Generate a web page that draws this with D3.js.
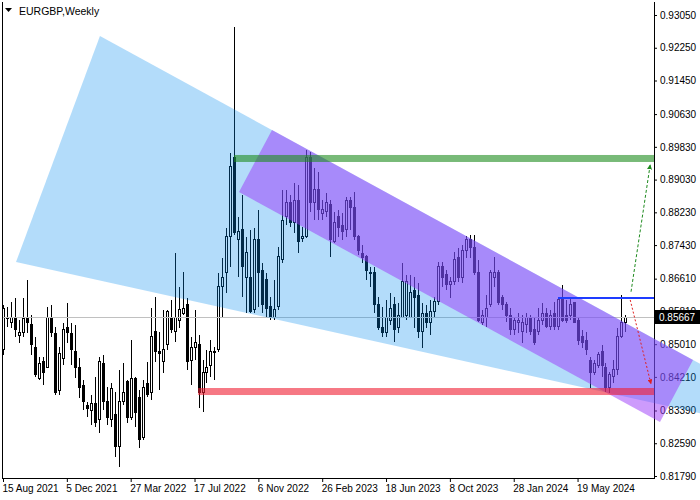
<!DOCTYPE html>
<html><head><meta charset="utf-8">
<script src="https://cdn.jsdelivr.net/npm/d3@7/dist/d3.min.js"></script>
<style>
html,body{margin:0;padding:0;background:#fff;}
svg{display:block;}
text{font-family:"Liberation Sans",Arial,sans-serif;}
</style></head>
<body>
<svg id="c" width="700" height="500"></svg>
<script>
// ---- data (EURGBP weekly, 15 Aug 2021 .. Aug 2024) ----
const dateLabels = ["15 Aug 2021","5 Dec 2021","27 Mar 2022","17 Jul 2022","6 Nov 2022","26 Feb 2023","18 Jun 2023","8 Oct 2023","28 Jan 2024","19 May 2024"];
const dateLabelIdx = [0,16,32,48,64,80,96,112,128,144];
const priceTicks = [0.93050,0.92250,0.91450,0.90630,0.89830,0.89030,0.88230,0.87430,0.86610,0.85810,0.85010,0.84210,0.83390,0.82590,0.81790];
const open = [0.8487,0.8567,0.8553,0.8565,0.8521,0.8529,0.8567,0.8548,0.8492,0.8418,0.8458,0.8445,0.8567,0.8526,0.8389,0.8465,0.8541,0.8526,0.8484,0.8443,0.8401,0.8352,0.8338,0.8357,0.8316,0.8455,0.8360,0.8318,0.8328,0.8250,0.8362,0.8409,0.8321,0.8418,0.8370,0.8272,0.8406,0.8382,0.8531,0.8484,0.8458,0.8499,0.8567,0.8531,0.8560,0.8577,0.8597,0.8462,0.8492,0.8499,0.8384,0.8431,0.8450,0.8482,0.8487,0.8641,0.8675,0.8763,0.8956,0.8756,0.8780,0.8663,0.8663,0.8585,0.8756,0.8682,0.8658,0.8592,0.8567,0.8592,0.8707,0.8812,0.8846,0.8797,0.8853,0.8758,0.8763,0.8958,0.8846,0.8878,0.8821,0.8824,0.8841,0.8751,0.8812,0.8792,0.8780,0.8853,0.8834,0.8763,0.8722,0.8714,0.8677,0.8675,0.8597,0.8541,0.8529,0.8560,0.8597,0.8541,0.8567,0.8572,0.8567,0.8633,0.8621,0.8531,0.8577,0.8553,0.8580,0.8604,0.8690,0.8670,0.8646,0.8653,0.8712,0.8663,0.8731,0.8756,0.8736,0.8675,0.8555,0.8567,0.8597,0.8663,0.8675,0.8614,0.8597,0.8572,0.8536,0.8555,0.8531,0.8548,0.8565,0.8536,0.8531,0.8560,0.8577,0.8543,0.8577,0.8543,0.8614,0.8572,0.8572,0.8602,0.8560,0.8519,0.8511,0.8462,0.8433,0.8450,0.8482,0.8443,0.8394,0.8421,0.8438,0.8519,0.8553];
const high = [0.8597,0.8592,0.8604,0.8614,0.8560,0.8614,0.8658,0.8572,0.8519,0.8470,0.8470,0.8592,0.8597,0.8543,0.8494,0.8553,0.8602,0.8553,0.8548,0.8467,0.8414,0.8360,0.8377,0.8421,0.8470,0.8475,0.8396,0.8406,0.8384,0.8438,0.8455,0.8414,0.8511,0.8421,0.8389,0.8414,0.8458,0.8589,0.8616,0.8531,0.8585,0.8585,0.8609,0.8724,0.8641,0.8677,0.8614,0.8519,0.8585,0.8524,0.8462,0.8487,0.8511,0.8494,0.8675,0.8712,0.8785,0.8968,0.9275,0.8812,0.8865,0.8763,0.8780,0.8785,0.8829,0.8699,0.8675,0.8616,0.8658,0.8738,0.8878,0.8878,0.8865,0.8895,0.8890,0.8787,0.8975,0.8970,0.8932,0.8922,0.8853,0.8870,0.8853,0.8824,0.8829,0.8821,0.8860,0.8860,0.8873,0.8768,0.8743,0.8719,0.8690,0.8690,0.8616,0.8592,0.8609,0.8626,0.8616,0.8602,0.8699,0.8670,0.8670,0.8665,0.8650,0.8602,0.8597,0.8609,0.8616,0.8702,0.8702,0.8682,0.8665,0.8726,0.8736,0.8743,0.8765,0.8768,0.8768,0.8707,0.8585,0.8621,0.8682,0.8714,0.8682,0.8621,0.8604,0.8589,0.8567,0.8577,0.8572,0.8577,0.8572,0.8567,0.8589,0.8602,0.8589,0.8585,0.8604,0.8614,0.8646,0.8609,0.8614,0.8604,0.8567,0.8536,0.8531,0.8470,0.8462,0.8482,0.8499,0.8455,0.8433,0.8462,0.8541,0.8621,0.8572];
const low = [0.8475,0.8543,0.8541,0.8519,0.8504,0.8519,0.8529,0.8475,0.8421,0.8414,0.8401,0.8443,0.8519,0.8377,0.8377,0.8450,0.8504,0.8450,0.8418,0.8370,0.8340,0.8323,0.8304,0.8299,0.8284,0.8340,0.8304,0.8299,0.8225,0.8201,0.8352,0.8308,0.8316,0.8299,0.8247,0.8267,0.8372,0.8365,0.8458,0.8389,0.8431,0.8487,0.8529,0.8506,0.8541,0.8572,0.8438,0.8401,0.8462,0.8345,0.8335,0.8406,0.8421,0.8414,0.8482,0.8565,0.8626,0.8690,0.8768,0.8665,0.8616,0.8577,0.8577,0.8577,0.8592,0.8577,0.8567,0.8560,0.8560,0.8585,0.8699,0.8792,0.8787,0.8773,0.8724,0.8751,0.8760,0.8824,0.8804,0.8804,0.8804,0.8812,0.8714,0.8748,0.8763,0.8756,0.8763,0.8780,0.8756,0.8719,0.8699,0.8658,0.8641,0.8577,0.8536,0.8519,0.8519,0.8548,0.8506,0.8529,0.8565,0.8560,0.8565,0.8541,0.8516,0.8492,0.8541,0.8523,0.8567,0.8597,0.8641,0.8633,0.8614,0.8646,0.8653,0.8651,0.8712,0.8712,0.8670,0.8555,0.8548,0.8543,0.8592,0.8641,0.8597,0.8585,0.8555,0.8523,0.8523,0.8529,0.8504,0.8529,0.8523,0.8499,0.8523,0.8548,0.8541,0.8536,0.8536,0.8536,0.8555,0.8553,0.8560,0.8553,0.8499,0.8492,0.8475,0.8394,0.8426,0.8443,0.8421,0.8384,0.8382,0.8406,0.8426,0.8516,0.8531];
const close = [0.8589,0.8563,0.8565,0.8538,0.8529,0.8563,0.8555,0.8499,0.8426,0.8453,0.8431,0.8567,0.8529,0.8382,0.8477,0.8538,0.8529,0.8487,0.8443,0.8396,0.8360,0.8345,0.8357,0.8309,0.8458,0.8360,0.8323,0.8392,0.8250,0.8362,0.8384,0.8323,0.8418,0.8335,0.8267,0.8396,0.8379,0.8519,0.8482,0.8477,0.8487,0.8580,0.8538,0.8567,0.8585,0.8587,0.8458,0.8494,0.8504,0.8384,0.8431,0.8445,0.8482,0.8484,0.8641,0.8665,0.8763,0.8934,0.8773,0.8775,0.8690,0.8724,0.8580,0.8756,0.8677,0.8597,0.8589,0.8567,0.8585,0.8714,0.8804,0.8848,0.8799,0.8853,0.8751,0.8763,0.8956,0.8848,0.8878,0.8829,0.8831,0.8846,0.8756,0.8799,0.8785,0.8775,0.8853,0.8834,0.8763,0.8731,0.8712,0.8682,0.8675,0.8597,0.8541,0.8529,0.8565,0.8589,0.8536,0.8572,0.8653,0.8653,0.8628,0.8616,0.8531,0.8577,0.8555,0.8580,0.8604,0.8690,0.8663,0.8646,0.8653,0.8707,0.8663,0.8731,0.8756,0.8736,0.8675,0.8560,0.8572,0.8589,0.8675,0.8675,0.8602,0.8597,0.8572,0.8536,0.8560,0.8560,0.8553,0.8567,0.8531,0.8506,0.8560,0.8577,0.8543,0.8572,0.8543,0.8609,0.8560,0.8560,0.8597,0.8555,0.8511,0.8506,0.8487,0.8431,0.8455,0.8475,0.8450,0.8396,0.8426,0.8438,0.8519,0.8555,0.85667];
const lastPrice = 0.85667;
// drawn objects, in (bar index, price)
const wedgePoly = [[24.3,0.92537],[3.26,0.87017],[179.7,0.83216],[179.7,0.84263]];
const channelPoly = [[67.42,0.90241],[59.15,0.88727],[164.66,0.83109],[172.93,0.84623]];
const greenZone = {from:57.9, top:0.89631, bottom:0.89460};
const redZone = {from:48.9, top:0.83939, bottom:0.83768};
const blueLevel = {from:139.1, price:0.86138};
const upArrow = [[157.4,0.8629],[162.2,0.8939]];
const downArrow = [[157.2,0.8609],[162.4,0.8404]];

// ---- scales ----
const plotL = 2, plotR = 654, plotT = 2, plotB = 478;
const x = d3.scaleLinear().domain([0,156]).range([3, 3+3.99*156]);
const y = d3.scaleLinear().domain([0.8179,0.9305]).range([476,15]);

const svg = d3.select("#c");
const bars = d3.range(open.length).map(i=>({i,o:open[i],h:high[i],l:low[i],c:close[i]}));

// candles
const cg = svg.append("g").attr("shape-rendering","crispEdges");
cg.selectAll("line.w").data(bars).join("line")
  .attr("x1",d=>Math.round(x(d.i))+0.5).attr("x2",d=>Math.round(x(d.i))+0.5)
  .attr("y1",d=>y(d.h)).attr("y2",d=>y(d.l)).attr("stroke","#000").attr("stroke-width",1);
cg.selectAll("rect.b").data(bars).join("rect")
  .attr("x",d=>Math.round(x(d.i))-0.5).attr("width",2)
  .attr("y",d=>Math.min(y(d.o),y(d.c))).attr("height",d=>Math.max(1,Math.abs(y(d.o)-y(d.c))))
  .attr("fill",d=>d.c>=d.o?"#fff":"#000").attr("stroke","#000").attr("stroke-width",1);

// current price line
svg.append("line").attr("x1",plotL).attr("x2",plotR).attr("y1",Math.round(y(lastPrice))+0.5).attr("y2",Math.round(y(lastPrice))+0.5)
  .attr("stroke","#c0c0c0").attr("stroke-width",1);

// axes
const yAxis = d3.axisRight(y).tickValues(priceTicks).tickSize(3).tickPadding(3).tickFormat(d3.format(".5f"));
const ya = svg.append("g").attr("transform",`translate(${plotR},0)`).call(yAxis);
ya.select(".domain").remove();
ya.selectAll("text").attr("font-size","10px").attr("fill","#000").attr("font-family","Liberation Sans, Arial, sans-serif");
const xAxis = d3.axisBottom(x).tickValues(dateLabelIdx).tickSize(4).tickPadding(3).tickFormat((d,k)=>dateLabels[k]);
const xa = svg.append("g").attr("transform",`translate(0,${plotB})`).call(xAxis);
xa.select(".domain").remove();
xa.selectAll("text").attr("font-size","10px").attr("fill","#000").attr("text-anchor","start").attr("dx","-1").attr("font-family","Liberation Sans, Arial, sans-serif");

// frame
svg.append("path").attr("d",`M${plotL+0.5},${plotT}V${plotB+0.5}H${plotR+0.5}V${plotT}`)
  .attr("fill","none").attr("stroke","#000").attr("stroke-width",1).attr("shape-rendering","crispEdges");

// overlays
const lineGen = d3.line().x(d=>x(d[0])).y(d=>y(d[1]));
svg.append("path").attr("d",lineGen(wedgePoly)+"Z").attr("fill","rgb(2,138,238)").attr("fill-opacity",0.3);
svg.append("path").attr("d",lineGen(channelPoly)+"Z").attr("fill","rgb(155,55,250)").attr("fill-opacity",0.5);
svg.append("rect").attr("x",x(greenZone.from)).attr("width",plotR-x(greenZone.from))
  .attr("y",y(greenZone.top)).attr("height",y(greenZone.bottom)-y(greenZone.top))
  .attr("fill","rgb(30,140,30)").attr("fill-opacity",0.6);
svg.append("rect").attr("x",x(redZone.from)).attr("width",plotR-x(redZone.from))
  .attr("y",y(redZone.top)).attr("height",y(redZone.bottom)-y(redZone.top))
  .attr("fill","rgb(240,30,50)").attr("fill-opacity",0.6);
svg.append("line").attr("x1",x(blueLevel.from)).attr("x2",plotR).attr("y1",y(blueLevel.price)).attr("y2",y(blueLevel.price))
  .attr("stroke","#1e3cff").attr("stroke-width",2);

// arrows
const defs = svg.append("defs");
function marker(id,col){
  defs.append("marker").attr("id",id).attr("viewBox","0 0 10 10").attr("refX",9).attr("refY",5)
    .attr("markerWidth",5).attr("markerHeight",5).attr("orient","auto")
    .append("path").attr("d","M0,0L10,5L0,10Z").attr("fill",col);
}
marker("ag","#1e8a1e"); marker("ar","#e02020");
svg.append("path").attr("d",lineGen(upArrow)).attr("stroke","#1e8a1e").attr("stroke-width",1)
  .attr("stroke-dasharray","3,2").attr("fill","none").attr("marker-end","url(#ag)");
svg.append("path").attr("d",lineGen(downArrow)).attr("stroke","#e02020").attr("stroke-width",1)
  .attr("stroke-dasharray","2,2").attr("fill","none").attr("marker-end","url(#ar)");

// last price tag
const ly = Math.round(y(lastPrice));
svg.append("rect").attr("x",plotR+1).attr("y",ly-7).attr("width",46).attr("height",14).attr("fill","#000");
svg.append("text").attr("x",plotR+5).attr("y",ly+4).attr("fill","#fff").attr("font-size","10px").text(d3.format(".5f")(lastPrice));

// title
svg.append("path").attr("d","M5,8H12L8.5,12Z").attr("fill","#000");
svg.append("text").attr("x",19).attr("y",15).attr("font-size","10.5px").attr("fill","#000").text("EURGBP,Weekly");
</script>
</body></html>
